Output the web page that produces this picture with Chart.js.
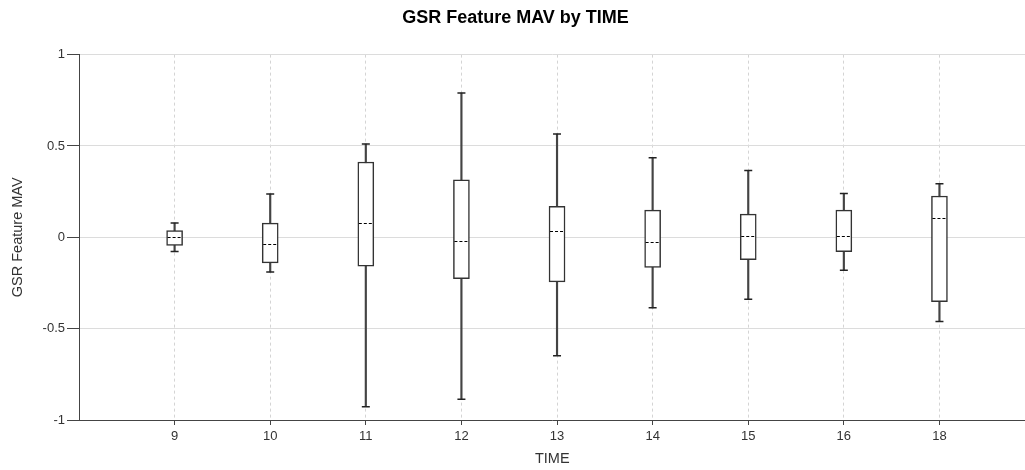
<!DOCTYPE html>
<html lang="en">
<head>
    <meta charset="UTF-8">
    <title>GSR Feature MAV by TIME</title>
    <script src="https://cdn.jsdelivr.net/npm/chart.js"></script>
    <style>
        html, body { margin: 0; padding: 0; background: #fff; overflow: hidden; }
        #wrap { width: 1025px; height: 470px; overflow: hidden; }
    </style>
</head>
<body>
<!-- canvas is a few px wider than the window: chart.js keeps ~6px on the right -->
<div id="wrap"><canvas id="boxChart" width="1031" height="470"></canvas></div>

<script>
    // box plot values
    const times = ['9', '10', '11', '12', '13', '14', '15', '16', '18'];
    const whiskerLow = [-0.078, -0.19, -0.927, -0.887, -0.648, -0.386, -0.339, -0.18, -0.461];
    const q1 = [-0.045, -0.14, -0.158, -0.226, -0.244, -0.165, -0.123, -0.078, -0.353];
    const median = [0.0, -0.036, 0.078, -0.021, 0.036, -0.026, 0.006, 0.007, 0.103];
    const q3 = [0.037, 0.078, 0.412, 0.315, 0.169, 0.149, 0.127, 0.149, 0.226];
    const whiskerHigh = [0.078, 0.237, 0.51, 0.79, 0.565, 0.436, 0.366, 0.24, 0.293];
    const yTicks = [-1, -0.5, 0, 0.5, 1];

    const boxData = times.map((t, i) => ({x: i, y: [q1[i], q3[i]]}));
    const whiskerData = times.map((t, i) => ({x: i, y: [whiskerLow[i], whiskerHigh[i]]}));
    const capData = [];
    times.forEach((t, i) => {
        capData.push({x: i, y: whiskerLow[i]});
        capData.push({x: i, y: whiskerHigh[i]});
    });

    // dashed median line across each box
    const medianPlugin = {
        id: 'medianLines',
        afterDatasetsDraw(chart) {
            const ctx = chart.ctx;
            const xs = chart.scales.x, ys = chart.scales.y;
            ctx.save();
            ctx.strokeStyle = '#000';
            ctx.lineWidth = 1;
            ctx.setLineDash([3, 2]);
            median.forEach((m, i) => {
                const px = xs.getPixelForValue(i);
                const py = Math.round(ys.getPixelForValue(m)) + 0.5;
                ctx.beginPath();
                ctx.moveTo(px - 7, py);
                ctx.lineTo(px + 7, py);
                ctx.stroke();
            });
            ctx.restore();
        }
    };

    const font = "'Liberation Sans', Arial, sans-serif";

    new Chart(document.getElementById('boxChart').getContext('2d'), {
        type: 'bar',
        data: {
            datasets: [
                {
                    type: 'bar',
                    data: boxData,
                    backgroundColor: '#fff',
                    borderColor: '#333',
                    borderWidth: 1.5,
                    borderSkipped: false,
                    barThickness: 16,
                    grouped: false,
                    order: 1
                },
                {
                    type: 'bar',
                    data: whiskerData,
                    backgroundColor: '#444',
                    borderWidth: 0,
                    barThickness: 1.5,
                    grouped: false,
                    order: 3
                },
                {
                    type: 'scatter',
                    data: capData,
                    pointStyle: 'line',
                    pointRadius: 4,
                    borderColor: '#222',
                    borderWidth: 1.5,
                    order: 2
                }
            ]
        },
        options: {
            responsive: false,
            animation: false,
            layout: { padding: 0 },
            plugins: {
                legend: { display: false },
                tooltip: { enabled: false },
                title: {
                    display: true,
                    text: 'GSR Feature MAV by TIME',
                    color: '#000',
                    font: { family: font, size: 18, weight: 'bold' },
                    padding: { top: 7, bottom: 26 }
                }
            },
            scales: {
                x: {
                    type: 'linear',
                    offset: false,
                    min: -1,
                    max: 8.9,
                    afterBuildTicks: axis => { axis.ticks = times.map((t, i) => ({value: i})); },
                    afterFit: axis => { axis.height = 50; },
                    ticks: {
                        callback: v => times[v],
                        color: '#333',
                        font: { family: font, size: 13 },
                        padding: 4,
                        maxRotation: 0
                    },
                    grid: { offset: false, color: '#d4d4d4', tickColor: '#444', tickLength: 5 },
                    border: { color: '#444', width: 1, dash: [3, 3] },
                    title: {
                        display: true,
                        text: 'TIME',
                        color: '#333',
                        font: { family: font, size: 14.5 },
                        padding: { top: 0, bottom: 2 }
                    }
                },
                y: {
                    min: -1,
                    max: 1,
                    afterBuildTicks: axis => { axis.ticks = yTicks.map(v => ({value: v})); },
                    afterFit: axis => { axis.width = 79; },
                    ticks: {
                        callback: v => String(v),
                        color: '#333',
                        font: { family: font, size: 13 },
                        padding: 2
                    },
                    grid: { color: '#dcdcdc', tickColor: '#444', tickLength: 12 },
                    border: { color: '#444', width: 1 },
                    title: {
                        display: true,
                        text: 'GSR Feature MAV',
                        color: '#333',
                        font: { family: font, size: 14.5 },
                        padding: { top: 9, bottom: 0 }
                    }
                }
            }
        },
        plugins: [medianPlugin]
    });
</script>
</body>
</html>
